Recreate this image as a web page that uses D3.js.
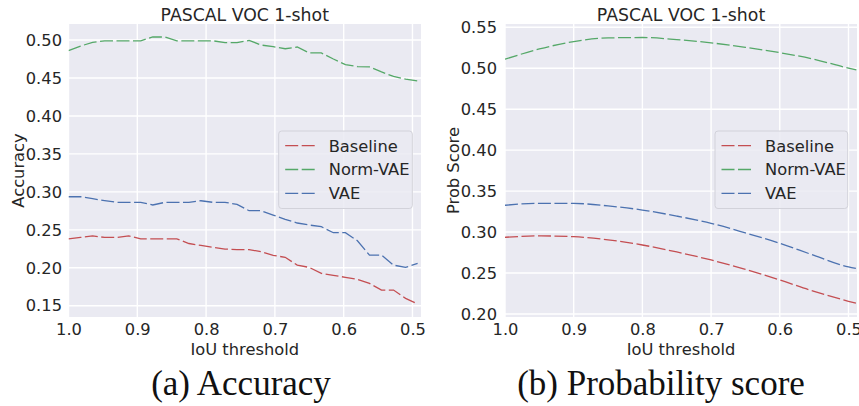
<!DOCTYPE html>
<html lang="en-US">
<head>
<meta charset="UTF-8">
<title>PASCAL VOC 1-shot</title>
<script src="https://d3js.org/d3.v7.min.js"></script>
<style>
  body { margin: 0; background: #fff; }
  text { font-family: "DejaVu Sans", sans-serif; fill: #262626; }
  .caption { font-family: "Liberation Serif", serif; fill: #111; }
  .grid line { stroke: #fff; stroke-width: 1.4px; }
  .series { fill: none; stroke-width: 1.3px; stroke-dasharray: 13 3.5; }
</style>
</head>
<body>
<script>

// IoU thresholds for the accuracy panel
var thresholds = [1.0000, 0.9825, 0.9650, 0.9475, 0.9300, 0.9125, 0.8950, 0.8775, 0.8600, 0.8425,
                  0.8250, 0.8075, 0.7900, 0.7725, 0.7550, 0.7375, 0.7200, 0.7025, 0.6850, 0.6675,
                  0.6500, 0.6325, 0.6150, 0.5975, 0.5800, 0.5625, 0.5450, 0.5275, 0.5100, 0.4925];

var accBaseline = [0.238, 0.240, 0.242, 0.240, 0.240, 0.242, 0.238, 0.238, 0.238, 0.238,
                   0.232, 0.2295, 0.227, 0.2247, 0.224, 0.224, 0.2212, 0.2164, 0.2138, 0.2035,
                   0.2005, 0.1927, 0.190, 0.1875, 0.1848, 0.1795, 0.1707, 0.1707, 0.1598, 0.1523];
var accNormVAE  = [0.486, 0.492, 0.497, 0.499, 0.499, 0.499, 0.499, 0.504, 0.504, 0.499,
                   0.499, 0.499, 0.499, 0.4965, 0.4965, 0.4995, 0.4934, 0.4912, 0.4885, 0.4908,
                   0.483, 0.483, 0.475, 0.4675, 0.465, 0.4645, 0.458, 0.452, 0.4485, 0.446];
var accVAE      = [0.2936, 0.2936, 0.291, 0.2885, 0.2862, 0.2862, 0.2862, 0.2827, 0.2862, 0.2862,
                   0.2862, 0.2883, 0.2862, 0.2862, 0.2836, 0.2752, 0.2752, 0.2695, 0.2638, 0.259,
                   0.2563, 0.2541, 0.2462, 0.2462, 0.2356, 0.2167, 0.2167, 0.2035, 0.2005, 0.2057];

// probability score panel is a smooth fit, read at coarser thresholds
var probThresholds = [1.0, 0.95, 0.9, 0.85, 0.8, 0.75, 0.7, 0.65, 0.6, 0.55, 0.5, 0.4886];
var probBaseline = [0.2936, 0.2953, 0.2944, 0.2905, 0.2842, 0.2757, 0.2659, 0.2545, 0.2415, 0.2275, 0.2155, 0.213];
var probNormVAE  = [0.511, 0.5235, 0.5325, 0.537, 0.5375, 0.535, 0.531, 0.5255, 0.519, 0.511, 0.500, 0.4979];
var probVAE      = [0.3327, 0.3351, 0.335, 0.3319, 0.3269, 0.3195, 0.3107, 0.299, 0.2863, 0.2715, 0.2575, 0.2557];

var seriesNames = ["Baseline", "Norm-VAE", "VAE"];
var seriesColors = ["#C44E52", "#55A868", "#4C72B0"];

var xTicks = [1.0, 0.9, 0.8, 0.7, 0.6, 0.5];
var accTicks = [0.15, 0.20, 0.25, 0.30, 0.35, 0.40, 0.45, 0.50];
var probTicks = [0.20, 0.25, 0.30, 0.35, 0.40, 0.45, 0.50, 0.55];

var fs = 16.3;

var svg = d3.select("body").append("svg")
    .attr("width", 859)
    .attr("height", 406);

function drawPanel(opt) {
  var x = d3.scaleLinear().domain([1.0, 0.4876]).range([opt.left, opt.right]);
  var y = d3.scaleLinear().domain(opt.yDomain).range([317, 24]);

  var g = svg.append("g");

  g.append("rect")
      .attr("x", opt.left).attr("y", 24)
      .attr("width", opt.right - opt.left).attr("height", 293)
      .attr("fill", "#EAEAF2");

  var grid = g.append("g").attr("class", "grid");
  grid.selectAll(".gx").data(xTicks).enter().append("line")
      .attr("x1", d => x(d)).attr("x2", d => x(d))
      .attr("y1", 24).attr("y2", 317);
  grid.selectAll(".gy").data(opt.yTicks).enter().append("line")
      .attr("x1", opt.left).attr("x2", opt.right)
      .attr("y1", d => y(d)).attr("y2", d => y(d));

  // tick labels (no tick marks, seaborn darkgrid style)
  var xAxis = g.append("g")
      .attr("transform", "translate(0,317)")
      .call(d3.axisBottom(x).tickValues(xTicks).tickFormat(d3.format(".1f")).tickSize(0).tickPadding(6));
  xAxis.select(".domain").remove();
  xAxis.selectAll("text").attr("font-size", fs).attr("fill", "#262626")
      .attr("font-family", "DejaVu Sans");

  var yAxis = g.append("g")
      .attr("transform", "translate(" + opt.left + ",0)")
      .call(d3.axisLeft(y).tickValues(opt.yTicks).tickFormat(d3.format(".2f")).tickSize(0).tickPadding(opt.yPad));
  yAxis.select(".domain").remove();
  yAxis.selectAll("text").attr("font-size", fs).attr("fill", "#262626")
      .attr("font-family", "DejaVu Sans");

  var clipId = "clip" + opt.left;
  g.append("clipPath").attr("id", clipId).append("rect")
      .attr("x", opt.left).attr("y", 24)
      .attr("width", opt.right - opt.left).attr("height", 293);

  var line = d3.line()
      .x(d => x(d[0]))
      .y(d => y(d[1]))
      .curve(opt.curve);

  opt.series.forEach(function(vals, i) {
    g.append("path")
        .datum(opt.xs.map((t, j) => [t, vals[j]]))
        .attr("class", "series")
        .attr("clip-path", "url(#" + clipId + ")")
        .attr("stroke", seriesColors[i])
        .attr("d", line);
  });

  var cx = (opt.left + opt.right) / 2;
  g.append("text")
      .attr("x", cx).attr("y", 20.5)
      .attr("text-anchor", "middle")
      .attr("font-size", 17.3)
      .text("PASCAL VOC 1-shot");

  g.append("text")
      .attr("x", cx).attr("y", 355)
      .attr("text-anchor", "middle")
      .attr("font-size", fs)
      .text("IoU threshold");

  g.append("text")
      .attr("transform", "translate(" + opt.yLabelX + ",170.5) rotate(-90)")
      .attr("text-anchor", "middle")
      .attr("font-size", fs)
      .text(opt.yLabel);

  // legend
  var lg = g.append("g").attr("transform", "translate(" + opt.legendX + ",131)");
  lg.append("rect")
      .attr("width", opt.legendW).attr("height", 77.5)
      .attr("rx", 3)
      .attr("fill", "#EAEAF2").attr("fill-opacity", 0.85)
      .attr("stroke", "#D2D2DA").attr("stroke-width", 1);
  seriesNames.forEach(function(name, i) {
    var cy = 14.7 + i * 23.8;
    lg.append("line")
        .attr("x1", 6.5).attr("x2", 38)
        .attr("y1", cy).attr("y2", cy)
        .attr("class", "series")
        .attr("stroke", seriesColors[i]);
    lg.append("text")
        .attr("x", 50).attr("y", cy + 5.8)
        .attr("font-size", fs)
        .text(name);
  });

  svg.append("text")
      .attr("class", "caption")
      .attr("x", opt.captionX).attr("y", 395)
      .attr("text-anchor", "middle")
      .attr("font-size", 35)
      .text(opt.caption);
}

drawPanel({
  left: 68.5, right: 421,
  yDomain: [0.1352, 0.5211], yTicks: accTicks, yPad: 6.5,
  xs: thresholds, series: [accBaseline, accNormVAE, accVAE],
  curve: d3.curveLinear,
  yLabel: "Accuracy", yLabelX: 24,
  legendX: 278.7, legendW: 133.6,
  caption: "(a) Accuracy", captionX: 241
});

drawPanel({
  left: 505, right: 857,
  yDomain: [0.1963, 0.554], yTicks: probTicks, yPad: 8,
  xs: probThresholds, series: [probBaseline, probNormVAE, probVAE],
  curve: d3.curveMonotoneX,
  yLabel: "Prob Score", yLabelX: 458.5,
  legendX: 715, legendW: 132.7,
  caption: "(b) Probability score", captionX: 661
});

</script>
</body>
</html>
